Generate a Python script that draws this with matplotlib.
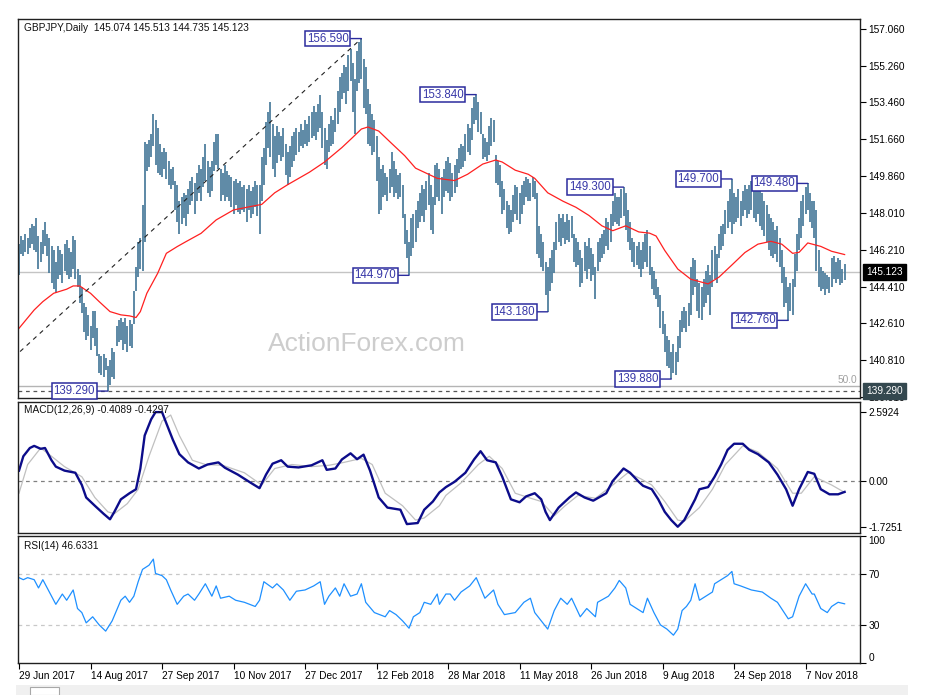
import numpy as np
import matplotlib.pyplot as plt
import matplotlib.transforms as mtransforms
from matplotlib.patches import Rectangle

plt.rcParams['font.family'] = ['Liberation Sans', 'DejaVu Sans']
plt.rcParams['font.size'] = 7.3

# ---- daily bars (high / low) ----
highs = [
    146.5, 146.9, 146.7, 147.0, 146.8, 147.3, 147.5, 147.4, 147.8, 146.9,
    146.6, 147.2, 147.6, 147.0, 146.8, 146.4, 146.2, 145.6, 146.4, 146.2,
    146.0, 146.5, 146.7, 146.3, 146.1, 146.9, 146.7, 145.3, 145.0, 144.4,
    143.6, 143.4, 143.0, 142.5, 143.2, 143.2, 142.4, 141.1, 141.0, 141.1,
    140.9, 140.5, 140.8, 141.4, 141.2, 142.5, 142.8, 142.9, 142.7, 142.9,
    142.5, 142.8, 142.6, 144.2, 145.4, 146.6, 146.8, 148.4, 151.5, 151.4,
    151.6, 151.9, 152.9, 152.6, 152.2, 151.4, 151.0, 151.2, 151.0, 150.6,
    150.2, 150.3, 149.6, 149.4, 148.6, 148.8, 149.0, 148.9, 149.2, 149.6,
    149.8, 149.5, 150.0, 150.4, 150.2, 150.8, 151.4, 150.6, 150.3, 150.6,
    151.5, 151.9, 151.9, 150.2, 150.0, 150.4, 150.1, 149.9, 149.8, 149.6,
    149.7, 149.5, 149.6, 149.3, 149.4, 149.2, 149.4, 149.1, 149.3, 149.6,
    149.4, 149.4, 150.8, 151.2, 152.5, 153.0, 153.5, 152.4, 151.8, 152.3,
    152.0, 151.8, 152.2, 151.4, 151.0, 151.3, 151.8, 152.0, 152.2, 152.0,
    152.4, 152.1, 152.6, 152.4, 152.8, 153.0, 153.3, 153.0, 153.4, 153.8,
    153.0, 152.2, 151.6, 152.4, 152.8, 152.6, 153.2, 154.0, 154.7, 154.9,
    155.3, 155.2, 155.8, 156.1, 155.4, 154.6, 156.0, 156.4, 156.59, 155.6,
    155.2, 154.1, 153.4, 152.9, 152.6, 151.8, 150.8, 150.2, 150.4, 150.0,
    149.8, 150.2, 151.0, 150.6, 150.2, 149.9, 150.0, 149.4, 148.0, 147.2,
    146.6, 147.8, 148.0, 148.2, 148.6, 149.0, 149.4, 149.2, 149.6, 150.0,
    149.4, 148.8, 150.4, 150.5, 150.2, 149.8, 150.2, 150.6, 150.8, 150.5,
    150.0, 150.4, 150.7, 151.2, 151.4, 151.3, 151.9, 152.4, 152.2, 153.2,
    153.7, 153.84, 153.5, 153.0, 151.9, 151.7, 151.5, 152.3, 152.7, 152.6,
    150.9, 150.6, 150.4, 149.6, 149.2, 148.6, 148.4, 148.2, 148.9, 149.4,
    149.3, 149.0, 149.4, 149.6, 149.8, 149.7, 149.5, 149.8, 149.6, 149.0,
    147.4, 147.0, 146.6, 145.6, 145.4, 145.8, 146.2, 146.6, 147.6, 148.0,
    147.8, 148.0, 147.6, 148.0, 147.7, 147.9, 147.0, 146.8, 146.6, 146.2,
    145.8, 146.6, 146.4, 146.8, 146.3, 146.0, 145.4, 146.6, 146.8, 147.0,
    147.2, 147.8, 147.6, 148.0, 148.6, 149.0, 148.8, 148.8, 149.2, 149.3,
    149.0, 148.2, 147.6, 146.8, 146.6, 146.4, 146.6, 146.2, 146.6, 147.0,
    147.2, 146.4, 145.4, 145.2, 144.8, 144.4, 144.0, 143.2, 142.6, 142.0,
    141.8, 141.2, 141.6, 141.2, 142.0, 142.8, 143.2, 143.4, 143.2, 143.6,
    145.4, 145.8, 145.7, 144.8, 144.6, 144.4, 144.8, 145.2, 145.5, 145.0,
    146.2, 146.4, 146.0, 147.0, 147.4, 147.5, 148.2, 148.6, 149.2, 149.7,
    149.0, 148.8, 149.2, 148.6, 149.1, 149.4, 149.2, 149.4, 149.6, 149.3,
    149.4, 149.5, 149.2, 149.0, 148.6, 148.4, 148.0, 147.8, 147.6, 147.2,
    147.4, 146.8, 146.2, 145.4, 144.9, 144.4, 144.6, 144.8, 146.0, 147.0,
    147.8, 148.6, 148.9, 149.3, 149.48, 149.0, 148.6, 148.6, 148.2, 146.2,
    145.4, 145.2, 145.1, 145.0, 144.9, 145.8, 145.9, 145.6, 145.8, 145.7,
    145.3, 145.513,
]
lows = [
    145.0, 146.0, 145.9, 146.1, 146.0, 146.3, 146.5, 146.2, 146.1, 145.3,
    145.6, 146.0, 146.4, 145.9, 145.1, 144.6, 144.3, 144.1, 144.8, 145.0,
    144.6, 145.2, 145.0, 144.8, 144.9, 145.3, 144.8, 144.4, 143.6, 143.1,
    142.2, 141.8, 142.0, 141.3, 141.9, 141.5, 141.0, 140.2, 140.1, 140.0,
    140.3, 139.29, 139.6, 140.0, 139.9, 141.5, 141.7, 141.8, 141.3, 141.6,
    141.2, 141.5, 141.4, 142.6, 144.2, 144.9, 145.3, 145.2, 146.6, 150.1,
    150.3, 150.8, 151.3, 150.4, 150.0, 149.9, 149.8, 150.2, 149.7, 149.4,
    149.2, 149.4, 148.2, 147.6, 147.0, 147.5, 147.8, 147.4, 148.0, 148.4,
    148.6, 148.0, 148.6, 149.0, 148.6, 149.3, 149.6, 149.0, 148.8, 149.1,
    150.1, 150.4, 150.2, 148.6, 148.9, 148.6, 148.8, 148.6, 148.3, 148.0,
    148.4, 148.1, 148.0, 148.2, 148.1, 147.6, 148.2, 147.8, 148.0, 148.3,
    147.9, 147.0, 148.6, 149.4, 150.4, 151.2, 150.8, 150.2, 149.8, 150.5,
    150.9, 150.6, 150.8, 149.9, 149.4, 149.8, 150.3, 150.6, 150.9, 151.0,
    151.3, 151.2, 151.4, 151.3, 151.5, 151.7, 151.8, 151.6, 152.0, 152.2,
    151.2, 150.4, 150.2, 151.0, 151.3, 151.4, 152.0, 152.4, 153.0, 153.6,
    153.9, 153.4, 154.0, 154.5, 153.0, 151.9, 154.0, 154.4, 154.6, 153.2,
    152.9, 151.4, 151.3, 150.9, 151.0, 149.6, 148.0, 148.2, 148.8, 148.9,
    148.6, 149.0, 149.3, 148.8, 149.0, 148.7, 148.8, 147.8, 146.5, 145.8,
    144.97, 145.9, 146.3, 146.6, 147.3, 147.6, 147.9, 147.6, 148.2, 148.4,
    147.2, 147.0, 148.4, 148.8, 148.6, 148.0, 148.8, 149.1, 149.0, 148.6,
    148.8, 149.0, 149.3, 150.0, 150.2, 150.3, 150.6, 151.0, 150.9, 151.6,
    152.4, 152.6, 152.0, 151.9, 150.7, 150.8, 150.6, 150.9, 151.3, 151.5,
    149.5, 149.4, 148.8, 148.0, 148.2, 147.3, 147.0, 147.1, 147.6, 148.0,
    147.7, 147.5, 148.0, 148.4, 148.8, 148.6, 148.6, 148.8, 148.7, 146.0,
    145.8, 145.4, 145.2, 144.0, 143.18, 144.2, 144.6, 145.1, 146.2, 146.6,
    146.4, 146.8, 146.5, 146.7, 146.6, 146.8, 145.6, 145.4, 145.5, 144.4,
    144.6, 145.2, 144.8, 145.3, 144.7, 145.0, 143.8, 145.2, 145.6, 145.8,
    146.0, 146.4, 146.2, 146.6, 147.4, 147.6, 147.5, 147.4, 147.8, 147.9,
    147.2, 146.6, 146.2, 145.6, 145.4, 145.5, 145.3, 144.9, 145.3, 145.6,
    145.4, 145.0, 144.3, 144.0, 143.8, 143.4, 142.4, 142.1, 141.2, 140.5,
    140.4, 139.88, 140.2, 140.1, 140.7, 141.4, 142.2, 142.4, 142.2, 142.5,
    143.0, 144.0, 144.4, 143.2, 142.9, 142.8, 143.4, 143.6, 144.0, 143.0,
    144.4, 144.8, 144.6, 145.8, 146.2, 146.4, 147.0, 147.3, 147.6, 147.0,
    147.5, 147.6, 147.8, 147.4, 147.9, 148.2, 147.8, 148.0, 148.2, 147.8,
    147.6, 148.0, 147.4, 147.2, 146.9, 146.6, 146.2, 145.9, 145.8, 146.0,
    145.6, 145.4, 144.6, 143.4, 143.6, 142.76, 143.2, 143.0, 144.4, 145.2,
    146.2, 146.8, 147.4, 148.0, 148.2, 147.6, 147.3, 146.8, 145.2, 144.4,
    144.2, 144.3, 144.0, 144.3, 144.1, 144.4, 144.8, 144.6, 144.8, 144.5,
    144.6, 144.735,
]

# moving average (red line), sampled along the chart
ma_idx = [0, 7, 11, 16, 22, 25, 28, 33, 37, 42, 47, 51, 54, 56, 59, 64, 68, 73, 77, 84,
          91, 99, 108, 112, 118, 124, 134, 141, 149, 154, 158, 161, 166, 172, 178, 183,
          189, 193, 201, 207, 214, 220, 223, 229, 235, 238, 244, 251, 257, 263, 269, 274,
          280, 286, 291, 294, 298, 304, 310, 318, 323, 329, 335, 341, 347, 352, 357, 360,
          364, 370, 375, 381]
ma_val = [142.37, 143.27, 143.68, 144.09, 144.29, 144.45, 144.45, 144.09, 143.68, 143.19,
          143.03, 142.98, 142.9, 143.19, 144.09, 145.07, 146.05, 146.38, 146.62, 147.03,
          147.69, 148.18, 148.37, 148.45, 149.02, 149.42, 150.03, 150.53, 151.24, 151.74,
          152.15, 152.25, 152.05, 151.44, 150.84, 150.23, 149.93, 149.73, 149.62, 149.93,
          150.43, 150.63, 150.53, 150.13, 149.93, 149.73, 149.02, 148.61, 148.31, 147.91,
          147.4, 147.16, 147.4, 147.1, 147.04, 146.9, 146.19, 145.28, 144.78, 144.55,
          144.88, 145.48, 146.09, 146.5, 146.64, 146.5, 146.05, 146.1, 146.56, 146.39,
          146.15, 145.99]

# MACD(12,26,9)
macd_idx = [0, 2, 5, 7, 10, 12, 15, 17, 21, 26, 29, 31, 35, 39, 42, 44, 47, 51, 54, 56,
            58, 61, 63, 66, 68, 71, 74, 78, 83, 87, 92, 95, 101, 107, 111, 114, 117, 121,
            124, 129, 135, 140, 142, 146, 149, 153, 156, 159, 162, 166, 170, 176, 179, 184,
            187, 191, 194, 197, 201, 206, 210, 213, 216, 220, 223, 227, 231, 234, 238, 241,
            243, 245, 249, 254, 257, 261, 265, 271, 274, 279, 282, 286, 288, 292, 295, 298,
            301, 304, 307, 309, 312, 314, 318, 321, 324, 327, 330, 334, 337, 341, 346, 350,
            354, 357, 360, 364, 367, 370, 374, 378, 381]
macd_val = [0.39, 0.93, 1.24, 1.32, 1.21, 1.24, 0.78, 0.54, 0.39, 0.31, -0.15, -0.62, -0.93,
            -1.23, -1.44, -1.16, -0.69, -0.46, -0.31, 0.47, 1.71, 2.32, 2.59, 2.59, 2.17,
            1.55, 1.01, 0.70, 0.47, 0.62, 0.70, 0.50, 0.24, -0.07, -0.27, 0.24, 0.65, 0.78,
            0.54, 0.51, 0.59, 0.78, 0.42, 0.47, 0.81, 1.04, 0.82, 0.99, 0.39, -0.62, -1.0,
            -1.08, -1.62, -1.58, -1.08, -0.77, -0.43, -0.23, -0.03, 0.31, 0.81, 1.12, 0.78,
            0.70, 0.16, -0.69, -0.8, -0.58, -0.46, -0.69, -1.16, -1.47, -1.0, -0.62, -0.43,
            -0.62, -0.74, -0.46, 0.0, 0.47, 0.31, -0.03, -0.18, -0.31, -0.69, -1.16, -1.47,
            -1.72, -1.47, -1.16, -0.69, -0.31, -0.23, 0.16, 0.62, 1.17, 1.4, 1.4, 1.17, 1.01,
            0.7, 0.24, -0.31, -0.93, -0.31, 0.34, 0.27, -0.31, -0.5, -0.5, -0.41]
sig_idx = [0, 4, 10, 15, 21, 29, 35, 41, 44, 50, 55, 60, 66, 70, 74, 80, 86, 94, 104, 112,
           118, 126, 135, 143, 150, 158, 163, 169, 177, 183, 187, 194, 197, 204, 212, 217,
           223, 229, 235, 241, 247, 252, 258, 266, 274, 281, 287, 292, 298, 304, 307, 314,
           320, 326, 334, 341, 350, 357, 361, 367, 375, 381]
sig_val = [-0.46, 0.62, 1.24, 0.93, 0.54, 0.16, -0.62, -1.16, -1.23, -0.85, -0.31, 0.93,
           2.25, 2.48, 1.71, 0.78, 0.62, 0.59, 0.31, -0.15, 0.47, 0.62, 0.54, 0.59, 0.70,
           0.85, 0.62, -0.46, -0.93, -1.47, -1.39, -0.93, -0.54, -0.07, 0.62, 0.93, 0.47,
           -0.46, -0.62, -0.77, -1.31, -0.93, -0.54, -0.65, -0.15, 0.31, 0.08, -0.15, -0.77,
           -1.47, -1.51, -1.0, -0.31, 0.62, 1.32, 1.09, 0.47, -0.46, -0.46, 0.16, -0.15,
           -0.43]

# RSI(14)
rsi_idx = [0, 2, 4, 7, 9, 11, 14, 17, 20, 22, 25, 27, 29, 31, 34, 37, 40, 43, 45, 47, 49,
           51, 53, 55, 57, 60, 62, 63, 66, 68, 70, 73, 76, 78, 81, 83, 86, 89, 91, 93, 97,
           100, 104, 109, 111, 113, 117, 119, 122, 125, 128, 132, 136, 139, 141, 143, 146,
           148, 150, 153, 156, 158, 160, 164, 169, 171, 174, 177, 180, 182, 185, 187, 190,
           193, 194, 197, 199, 201, 204, 208, 211, 215, 219, 221, 224, 229, 233, 236, 238,
           241, 244, 247, 250, 253, 255, 259, 262, 266, 267, 272, 275, 277, 280, 282, 285,
           288, 290, 293, 296, 299, 302, 304, 306, 308, 310, 312, 314, 317, 320, 321, 324,
           327, 329, 330, 333, 338, 343, 347, 350, 355, 357, 360, 363, 366, 367, 370, 373,
           375, 378, 381]
rsi_val = [67.2, 65.6, 67.2, 65.6, 59.1, 65.6, 55.9, 46.2, 54.3, 49.4, 57.5, 42.9, 39.7,
           31.6, 36.4, 30.0, 25.1, 33.2, 41.3, 49.4, 52.6, 47.8, 52.6, 64.0, 73.7, 77.0,
           81.8, 70.5, 68.8, 65.6, 57.5, 46.2, 52.6, 54.3, 49.4, 54.3, 62.4, 52.6, 60.7,
           51.0, 52.6, 49.4, 47.8, 44.5, 49.4, 64.0, 59.1, 62.4, 57.5, 49.4, 56.5, 57.5,
           60.7, 64.0, 46.2, 52.6, 59.1, 52.6, 62.4, 52.6, 54.3, 62.4, 47.8, 39.7, 36.4,
           41.3, 38.1, 33.2, 27.4, 36.4, 39.7, 47.8, 46.2, 54.3, 46.2, 54.3, 54.3, 49.4,
           55.9, 60.7, 67.2, 51.0, 57.5, 46.2, 38.1, 39.7, 47.8, 51.0, 39.7, 33.2, 26.7,
           41.3, 51.0, 46.2, 51.0, 36.4, 42.9, 36.4, 47.8, 52.6, 59.1, 65.0, 59.1, 46.2,
           42.9, 39.7, 51.0, 39.7, 30.0, 26.7, 21.9, 26.7, 41.3, 44.5, 49.4, 62.4, 49.4,
           52.6, 55.9, 62.4, 65.6, 68.8, 72.1, 62.4, 60.7, 57.5, 55.9, 51.0, 47.8, 34.8,
           36.4, 52.6, 62.4, 54.3, 54.3, 42.9, 39.7, 44.5, 47.8, 46.6]

date_labels = ['29 Jun 2017', '14 Aug 2017', '27 Sep 2017', '10 Nov 2017', '27 Dec 2017',
               '12 Feb 2018', '28 Mar 2018', '11 May 2018', '26 Jun 2018', '9 Aug 2018',
               '24 Sep 2018', '7 Nov 2018']
date_bars = [0, 33, 66, 99, 132, 165, 198, 231, 264, 297, 330, 363]
price_ticks = [157.060, 155.260, 153.460, 151.660, 149.860, 148.010, 146.210,
               144.410, 142.610, 140.810, 139.010]
peak_bars = [158, 211, 279, 329, 364]
trough_bars = [41, 180, 244, 301, 355]
last_close = 145.123
support = 139.29
fib_50 = 139.54
trend_start = (0.5, 141.23)
title = 'GBPJPY,Daily  145.074 145.513 144.735 145.123'

W, H = 926, 695
fig = plt.figure(figsize=(W / 100, H / 100), dpi=100)


def px_box(l, t, r, b):
    return [l / W, 1 - b / H, (r - l) / W, (b - t) / H]


ax = fig.add_axes(px_box(18, 19, 860, 398))
ax2 = fig.add_axes(px_box(18, 402, 860, 533), sharex=ax)
ax3 = fig.add_axes(px_box(18, 536, 860, 663), sharex=ax)

for a in (ax, ax2, ax3):
    a.yaxis.tick_right()
    a.tick_params(axis='y', direction='out', length=4, width=0.8, pad=2, labelsize=7.3)
    for s in a.spines.values():
        s.set_color('#202020')
        s.set_linewidth(1.0)
ax.tick_params(axis='x', bottom=False, labelbottom=False)
ax2.tick_params(axis='x', bottom=False, labelbottom=False)

# ---- price panel ----
x = np.arange(len(highs))
ax.axhline(last_close, color='#c4c4c4', lw=1)
ax.axhline(fib_50, color='#b4b4b4', lw=1)
ax.axhline(support, color='#555555', lw=0.9, ls=(0, (3, 3)))
ax.vlines(x, lows, highs, color='#4f7f9e', lw=1.3)
ax.plot(ma_idx, ma_val, color='#ff2020', lw=0.9)
ax.plot([trend_start[0], peak_bars[0]], [trend_start[1], highs[peak_bars[0]]],
        color='#222222', lw=0.8, ls=(0, (4, 4)))
ax.set_xlim(-0.46, 388.1)
ax.set_ylim(138.95, 157.55)
ax.set_yticks(price_ticks, [f'{p:.3f}' for p in price_ticks])

ax.text(0.0071, 0.976, title, transform=ax.transAxes, ha='left', va='center',
        fontsize=7.3, color='#101010')
ax.text(0.4145, 0.1425, 'ActionForex.com', transform=ax.transAxes, ha='center',
        va='center', fontsize=19, color='#cdcdcd')


def tag(i, p):
    ax.annotate(f'{p:.3f}', xy=(i, p), xytext=(-9.2, 0), textcoords='offset points',
                ha='right', va='center', fontsize=8.3, color='#3838a8',
                bbox=dict(boxstyle='square,pad=0.15', fc='white', ec='#2b2b9e', lw=1.1),
                arrowprops=dict(arrowstyle='-', color='#2b2b9e', lw=1.0,
                                shrinkA=0, shrinkB=0))


for i in peak_bars:
    tag(i, highs[i])
for i in trough_bars:
    tag(i, lows[i])

blend = mtransforms.blended_transform_factory(ax.transAxes, ax.transData)
ax.text(1.0075, last_close, f'{last_close:.3f}', transform=blend, ha='left', va='center',
        color='white', fontsize=7.3,
        bbox=dict(boxstyle='square,pad=0.3', fc='black', ec='black'))
ax.text(1.0075, support, f'{support:.3f}', transform=blend, ha='left', va='center',
        color='white', fontsize=7.3, zorder=5,
        bbox=dict(boxstyle='square,pad=0.3', fc='#34484f', ec='#34484f'))
ax.text(1 - 3 / 842, 139.84, '50.0', transform=blend, ha='right', va='center',
        color='#a0a0a0', fontsize=7.3)

# ---- MACD panel ----
ax2.axhline(0, color='#808080', lw=0.9, ls=(0, (3, 3)))
ax2.plot(sig_idx, sig_val, color='#c0c0c0', lw=0.9)
ax2.plot(macd_idx, macd_val, color='#0c0c8a', lw=1.7)
ax2.set_ylim(-1.955, 2.97)
ax2.set_yticks([2.5924, 0.0, -1.7251], ['2.5924', '0.00', '-1.7251'])
ax2.text(0.0071, 0.939, 'MACD(12,26,9) -0.4089 -0.4297', transform=ax2.transAxes,
         ha='left', va='center', fontsize=7.3, color='#101010')

# ---- RSI panel ----
ax3.axhline(70, color='#c8c8c8', lw=0.9, ls=(0, (3, 3)))
ax3.axhline(30, color='#c8c8c8', lw=0.9, ls=(0, (3, 3)))
ax3.plot(rsi_idx, rsi_val, color='#1e90ff', lw=0.9)
ax3.set_ylim(0, 100)
ax3.set_yticks([100, 70, 30, 0], ['100', '70', '30', '0'])
for t in ax3.yaxis.get_major_ticks():
    txt = t.label2.get_text()
    if txt == '100':
        t.label2.set_va('top')
    elif txt == '0':
        t.label2.set_va('bottom')
ax3.text(0.0071, 0.921, 'RSI(14) 46.6331', transform=ax3.transAxes,
         ha='left', va='center', fontsize=7.3, color='#101010')

ax3.set_xticks(date_bars, date_labels)
ax3.tick_params(axis='x', direction='out', length=4, width=0.8, pad=1.5, labelsize=7.3)
for lbl in ax3.get_xticklabels():
    lbl.set_ha('left')

# bottom status strip
fig.patches.append(Rectangle((16 / W, 0), (908 - 16) / W, 10 / H,
                             transform=fig.transFigure, fc='#f0f0f0', ec='none'))
fig.patches.append(Rectangle((30 / W, 0), 29 / W, 8 / H,
                             transform=fig.transFigure, fc='white', ec='#a8a8a8', lw=0.8))

fig.savefig('out.png', dpi=100)
